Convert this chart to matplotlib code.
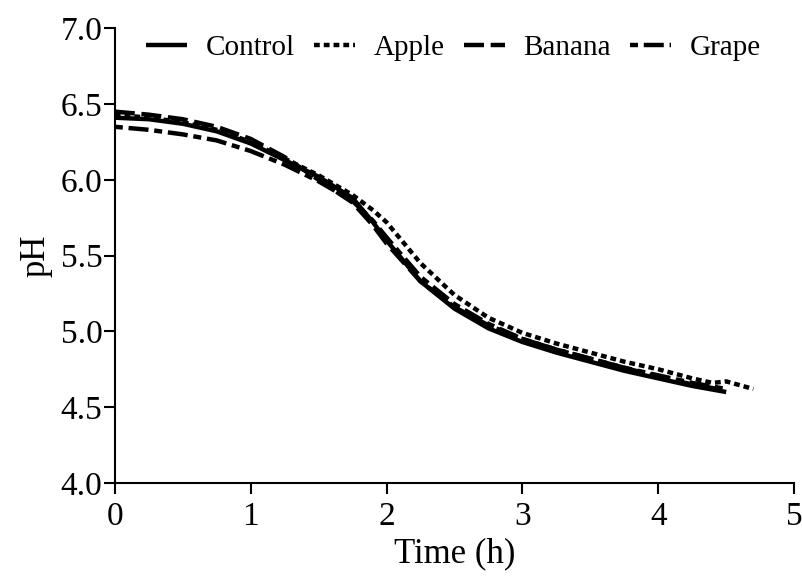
import matplotlib
matplotlib.use("Agg")
import matplotlib.pyplot as plt

plt.rcParams['font.family'] = ['Liberation Serif', 'DejaVu Serif']

t_control = [0, 0.25, 0.5, 0.75, 1.0, 1.25, 1.5, 1.75, 1.9, 2.0, 2.25, 2.5, 2.75, 3.0, 3.25, 3.5, 3.75, 4.0, 4.25, 4.5]
ph_control = [6.41, 6.40, 6.37, 6.32, 6.24, 6.13, 6.02, 5.88, 5.72, 5.60, 5.33, 5.15, 5.02, 4.93, 4.86, 4.80, 4.74, 4.69, 4.64, 4.60]

t_apple = [0, 0.25, 0.5, 0.75, 1.0, 1.25, 1.5, 1.75, 1.9, 2.0, 2.25, 2.5, 2.75, 3.0, 3.25, 3.5, 3.75, 4.0, 4.25, 4.4, 4.5, 4.7]
ph_apple = [6.43, 6.41, 6.38, 6.33, 6.25, 6.14, 6.03, 5.90, 5.80, 5.72, 5.45, 5.24, 5.09, 4.99, 4.92, 4.86, 4.80, 4.75, 4.69, 4.66, 4.67, 4.62]

t_banana = [0, 0.25, 0.5, 0.75, 1.0, 1.25, 1.5, 1.75, 1.9, 2.0, 2.25, 2.5, 2.75, 3.0, 3.25, 3.5, 3.75, 4.0, 4.25, 4.5]
ph_banana = [6.45, 6.43, 6.40, 6.35, 6.27, 6.15, 6.00, 5.85, 5.70, 5.58, 5.33, 5.16, 5.04, 4.95, 4.88, 4.82, 4.76, 4.70, 4.65, 4.61]

t_grape = [0, 0.25, 0.5, 0.75, 1.0, 1.25, 1.5, 1.75, 1.9, 2.0, 2.25, 2.5, 2.75, 3.0, 3.25, 3.5, 3.75, 4.0, 4.25, 4.5]
ph_grape = [6.35, 6.33, 6.30, 6.26, 6.19, 6.10, 5.99, 5.86, 5.73, 5.62, 5.36, 5.18, 5.05, 4.95, 4.88, 4.82, 4.76, 4.71, 4.66, 4.62]

x_ticks = [0, 1, 2, 3, 4, 5]
y_ticks = [4.0, 4.5, 5.0, 5.5, 6.0, 6.5, 7.0]

fig = plt.figure(figsize=(8.03, 5.77), dpi=100)
ax = fig.add_axes([0.143, 0.163, 0.846, 0.788])

lw = 3.2
ax.plot(t_control, ph_control, color='black', lw=lw, solid_capstyle='butt', label='Control')
ax.plot(t_apple, ph_apple, color='black', lw=lw, dashes=(1.3, 0.9), label='Apple')
ax.plot(t_banana, ph_banana, color='black', lw=lw, dashes=(4.5, 1.5), label='Banana')
ax.plot(t_grape, ph_grape, color='black', lw=lw, dashes=(1.8, 1.3, 4.5, 1.3), label='Grape')

ax.set_xlim(0, 5)
ax.set_ylim(4.0, 7.0)
ax.set_xticks(x_ticks)
ax.set_yticks(y_ticks)
ax.set_yticklabels([f"{v:.1f}" for v in y_ticks])
ax.spines['top'].set_visible(False)
ax.spines['right'].set_visible(False)
for s in ['left', 'bottom']:
    ax.spines[s].set_linewidth(1.5)
ax.tick_params(axis='both', direction='out', length=8, width=1.5, labelsize=24)
ax.tick_params(axis='x', pad=5)
ax.tick_params(axis='y', pad=1)
ax.set_xlabel('Time (h)', fontsize=25, labelpad=4)
ax.set_ylabel('pH', fontsize=25, labelpad=6)

ax.legend(loc='upper left', bbox_to_anchor=(0.182, 0.94), bbox_transform=fig.transFigure,
          ncol=4, frameon=False, borderpad=0, borderaxespad=0,
          fontsize=21, handlelength=1.4, columnspacing=0.65, handletextpad=0.65)

fig.savefig('out.png', dpi=100)
